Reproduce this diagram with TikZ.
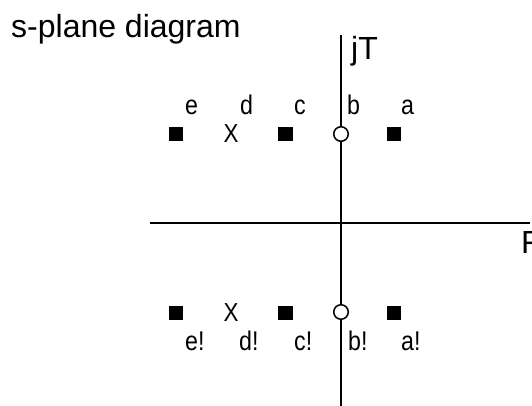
\documentclass[tikz,border=0pt]{standalone}
\usepackage{fontspec}
\setmainfont{Liberation Sans}
\newfontfamily\narrowfont[FakeStretch=0.86]{Liberation Sans}
\usetikzlibrary{positioning}
\tikzset{
axis_line/.style={line width=2pt, color=black},
zero_mark/.style={circle, draw, line width=1.5pt, fill=white, minimum size=14.5pt, inner sep=0pt},
pole_box/.style={rectangle, fill=black, minimum size=14.5pt, inner sep=0pt},
pole_x/.style={inner sep=0pt, font=\narrowfont\fontsize{26}{28}\selectfont},
mark_label/.style={anchor=base west, inner sep=0pt, font=\narrowfont\fontsize{27}{30}\selectfont},
axis_label/.style={anchor=base west, inner sep=0pt, font=\fontsize{32}{35}\selectfont}
}
\begin{document}
\begin{tikzpicture}[x=1pt, y=-1pt]
    \useasboundingbox (0,0) rectangle (532,406);
    \node[anchor=base west, inner sep=0pt, font=\fontsize{32}{36}\selectfont] (title) at (11,38) {s-plane diagram};
    % axes
    \coordinate (im_top) at (341,35);
    \coordinate (im_bottom) at (341,406);
    \coordinate (re_left) at (150,223);
    \coordinate (re_right) at (530,223);
    \draw[axis_line] (im_top) -- (im_bottom);
    \draw[axis_line] (re_left) -- (re_right);
    \node[axis_label] (im_label) at (351,60) {jT};
    \node[axis_label] (re_label) at (521,253) {F};
    % upper half
    \node[pole_box] (e_1) at (176,134) {};
    \node[pole_x] (d_1) at (231,134) {X};
    \node[pole_box] (c_1) at (285.5,134) {};
    \node[zero_mark] (b_1) at (341,134) {};
    \node[pole_box] (a_1) at (394,134) {};
    \node[mark_label] (le_1) at (185,115) {e};
    \node[mark_label] (ld_1) at (240,115) {d};
    \node[mark_label] (lc_1) at (294,115) {c};
    \node[mark_label] (lb_1) at (347,115) {b};
    \node[mark_label] (la_1) at (401,115) {a};
    % lower half
    \node[pole_box] (e_2) at (176,313) {};
    \node[pole_x] (d_2) at (231,313) {X};
    \node[pole_box] (c_2) at (285.5,313) {};
    \node[zero_mark] (b_2) at (341,312) {};
    \node[pole_box] (a_2) at (394,313) {};
    \node[mark_label] (le_2) at (185,350) {e!};
    \node[mark_label] (ld_2) at (239,350) {d!};
    \node[mark_label] (lc_2) at (294,350) {c!};
    \node[mark_label] (lb_2) at (348,350) {b!};
    \node[mark_label] (la_2) at (401,350) {a!};
\end{tikzpicture}
\end{document}
